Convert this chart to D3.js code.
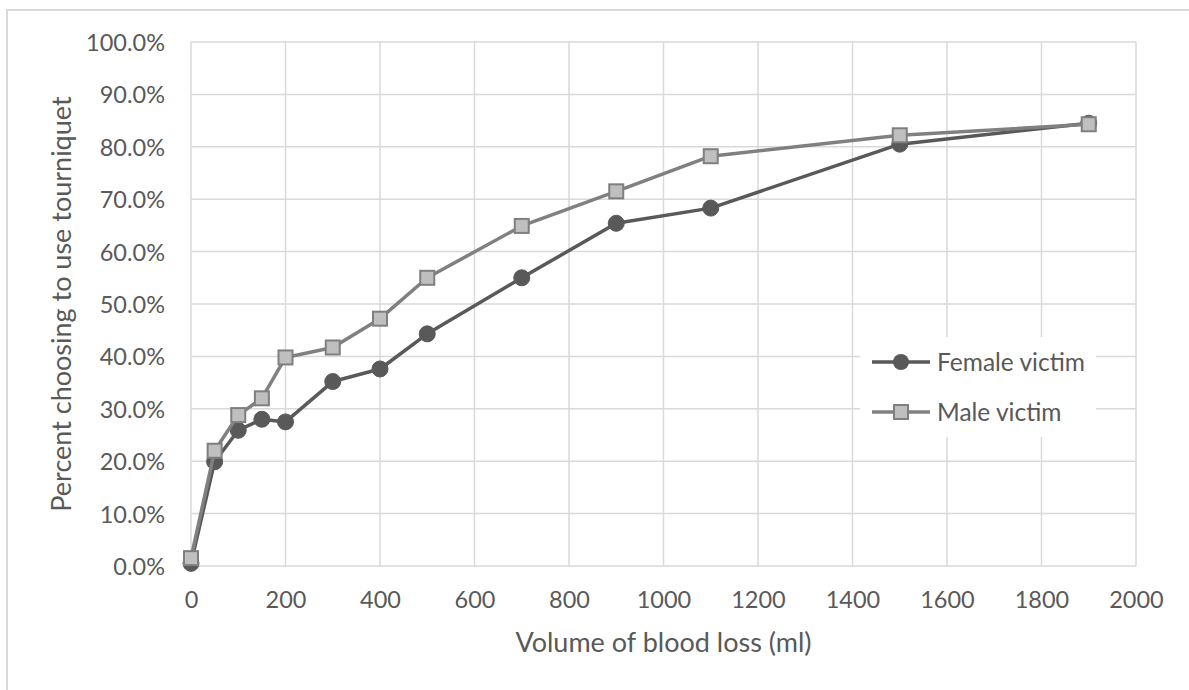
<!DOCTYPE html>
<html>
<head>
<meta charset="utf-8">
<script src="https://cdn.jsdelivr.net/npm/d3@7"></script>
<style>
  html, body { margin: 0; padding: 0; background: #fff; }
  svg { display: block; }
  text { font-family: Lato, "Open Sans", sans-serif; fill: #595959; }
</style>
</head>
<body>
<script>
// ---- Data ----
const bloodLoss = [0, 50, 100, 150, 200, 300, 400, 500, 700, 900, 1100, 1500, 1900];
const femaleVictim = [0.5, 19.9, 25.9, 28.0, 27.5, 35.2, 37.6, 44.3, 55.0, 65.4, 68.3, 80.5, 84.5];
const maleVictim = [1.5, 22.0, 28.8, 32.0, 39.8, 41.7, 47.2, 55.0, 64.9, 71.5, 78.2, 82.2, 84.3];
const xTicks = [0, 200, 400, 600, 800, 1000, 1200, 1400, 1600, 1800, 2000];
const yTicks = [0, 10, 20, 30, 40, 50, 60, 70, 80, 90, 100];
const seriesNames = ["Female victim", "Male victim"];
const xTitle = "Volume of blood loss (ml)";
const yTitle = "Percent choosing to use tourniquet";

// ---- Layout ----
const W = 1189, H = 690;
const plot = { left: 191, right: 1136, top: 42, bottom: 566 };

const svg = d3.select("body").append("svg").attr("width", W).attr("height", H);

// outer chart border
svg.append("rect").attr("x", 7).attr("y", 10).attr("width", W + 20).attr("height", H + 20)
  .attr("fill", "#fff").attr("stroke", "#d9d9d9").attr("stroke-width", 2);

const x = d3.scaleLinear().domain([0, 2000]).range([plot.left, plot.right]);
const y = d3.scaleLinear().domain([0, 100]).range([plot.bottom, plot.top]);

// gridlines
const grid = svg.append("g");
grid.selectAll("line.h").data(yTicks).join("line")
  .attr("x1", plot.left).attr("x2", plot.right)
  .attr("y1", d => y(d)).attr("y2", d => y(d))
  .attr("stroke", "#d9d9d9").attr("stroke-width", 1.5);
grid.selectAll("line.v").data(xTicks).join("line")
  .attr("y1", plot.top).attr("y2", plot.bottom)
  .attr("x1", d => x(d)).attr("x2", d => x(d))
  .attr("stroke", "#d9d9d9").attr("stroke-width", 1.5);

// axes (labels only, via d3 axes)
const yAxis = d3.axisLeft(y).tickValues(yTicks).tickFormat(d => d.toFixed(1) + "%").tickSize(0).tickPadding(26);
const gy = svg.append("g").attr("transform", `translate(${plot.left},0)`).call(yAxis);
gy.select(".domain").remove();
gy.selectAll("text").attr("font-size", 23.5).attr("font-family", "Lato").attr("fill", "#595959").attr("dy", "0.36em");

const xAxis = d3.axisBottom(x).tickValues(xTicks).tickFormat(d3.format("d")).tickSize(0).tickPadding(28);
const gx = svg.append("g").attr("transform", `translate(0,${plot.bottom})`).call(xAxis);
gx.select(".domain").remove();
gx.selectAll("text").attr("font-size", 23.5).attr("font-family", "Lato").attr("fill", "#595959").attr("dy", "0.6em");

// axis titles
svg.append("text").attr("x", (plot.left + plot.right) / 2).attr("y", 652)
  .attr("text-anchor", "middle").attr("font-size", 27).text(xTitle);
svg.append("text").attr("transform", `translate(71,${(plot.top + plot.bottom) / 2}) rotate(-90)`)
  .attr("text-anchor", "middle").attr("font-size", 27).text(yTitle);

// series
const femaleData = bloodLoss.map((b, i) => ({ x: b, y: femaleVictim[i] }));
const maleData = bloodLoss.map((b, i) => ({ x: b, y: maleVictim[i] }));
const line = d3.line().x(d => x(d.x)).y(d => y(d.y));

const femaleColor = "#595959", maleLine = "#808080", maleFill = "#bfbfbf", maleStroke = "#7f7f7f";

svg.append("path").datum(femaleData).attr("d", line)
  .attr("fill", "none").attr("stroke", femaleColor).attr("stroke-width", 3.5).attr("stroke-linejoin", "round");
svg.append("g").selectAll("circle").data(femaleData).join("circle")
  .attr("cx", d => x(d.x)).attr("cy", d => y(d.y)).attr("r", 8)
  .attr("fill", femaleColor).attr("stroke", femaleColor).attr("stroke-width", 1);

svg.append("path").datum(maleData).attr("d", line)
  .attr("fill", "none").attr("stroke", maleLine).attr("stroke-width", 3.5).attr("stroke-linejoin", "round");
const sq = 14;
svg.append("g").selectAll("rect").data(maleData).join("rect")
  .attr("x", d => x(d.x) - sq / 2).attr("y", d => y(d.y) - sq / 2)
  .attr("width", sq).attr("height", sq)
  .attr("fill", maleFill).attr("stroke", maleStroke).attr("stroke-width", 2);

// legend
const lg = svg.append("g");
lg.append("rect").attr("x", 860).attr("y", 337).attr("width", 236).attr("height", 100).attr("fill", "#fff");
const rows = [
  { name: seriesNames[0], yy: 362, type: "circle" },
  { name: seriesNames[1], yy: 412, type: "square" }
];
rows.forEach(r => {
  lg.append("line").attr("x1", 872).attr("x2", 930).attr("y1", r.yy).attr("y2", r.yy)
    .attr("stroke", r.type === "circle" ? femaleColor : maleLine).attr("stroke-width", 3.5);
  if (r.type === "circle") {
    lg.append("circle").attr("cx", 901).attr("cy", r.yy).attr("r", 8).attr("fill", femaleColor);
  } else {
    lg.append("rect").attr("x", 901 - sq / 2).attr("y", r.yy - sq / 2).attr("width", sq).attr("height", sq)
      .attr("fill", maleFill).attr("stroke", maleStroke).attr("stroke-width", 2);
  }
  lg.append("text").attr("x", 937).attr("y", r.yy).attr("dy", "0.36em").attr("font-size", 24.5).text(r.name);
});
</script>
</body>
</html>
